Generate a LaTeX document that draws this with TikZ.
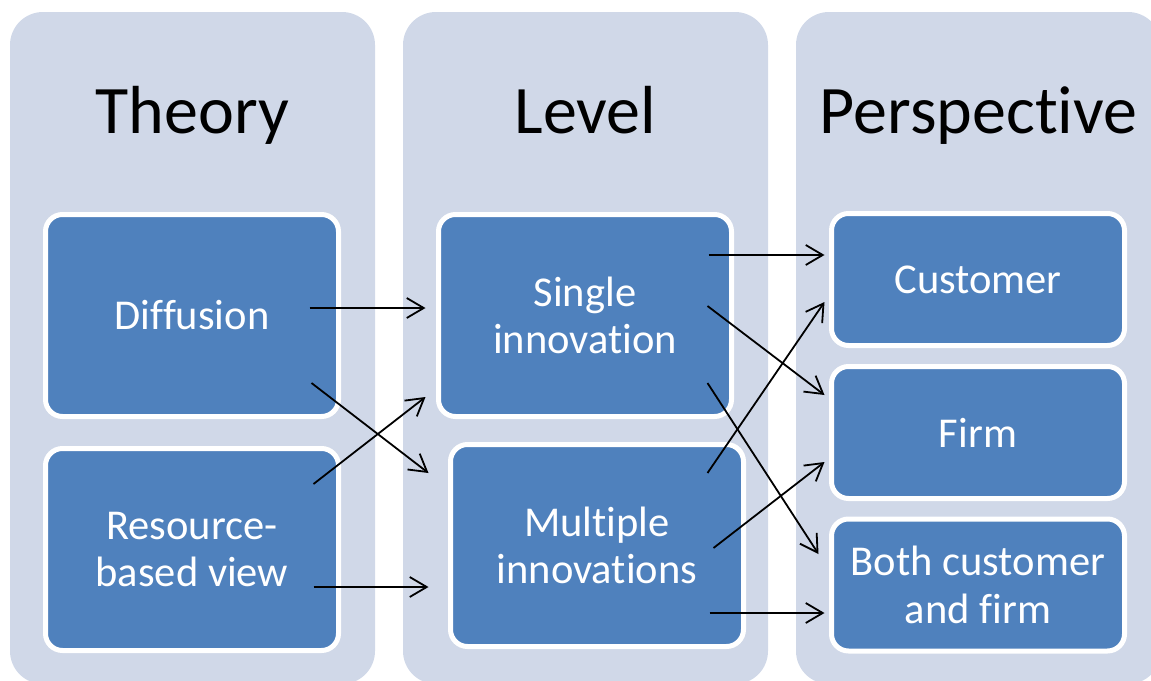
\documentclass[tikz,border=0pt]{standalone}
\usepackage{fontspec}
\setmainfont{Carlito}[Ligatures={NoCommon}]
\usetikzlibrary{arrows.meta}
\definecolor{colbg}{HTML}{D0D8E8}
\definecolor{boxfill}{HTML}{4F81BD}
\tikzset{
  column/.style={fill=colbg, draw=none, rounded corners=33pt, minimum width=365pt, minimum height=672pt, inner sep=0pt},
  title/.style={anchor=base, font={\fontsize{68}{80}\selectfont}, text=black, inner sep=0pt},
  item/.style={fill=boxfill, draw=white, line width=5pt, rounded corners=17pt, text=white, align=center,
    font={\fontsize{42.5}{47.5}\selectfont}, minimum width=293pt, inner sep=0pt},
  tall/.style={item, minimum height=202pt},
  short/.style={item, minimum height=132pt},
  arr/.style={-{Straight Barb[length=17pt,width=20pt,line width=1.8pt]}, line width=1.8pt, black}
}
\begin{document}
\begin{tikzpicture}[x=1pt,y=-1pt]
\useasboundingbox (0,0) rectangle (1151,680);
\clip (0,0) rectangle (1151,680);
% columns
\node[column] (col1) at (192.5,348) {};
\node[column] (col2) at (585.5,348) {};
\node[column] (col3) at (978.5,348) {};
% titles
\node[title] (t1) at (192.5,133) {Theory};
\node[title] (t2) at (585.5,133) {Level};
\node[title] (t3) at (978.5,133) {Perspective};
% boxes
\node[tall] (diff) at (192,315.5) {Diffusion};
\node[tall] (res) at (192,549.5) {Resource-\\based view};
\node[tall] (single) at (585,315.5) {Single\\innovation};
\node[tall] (mult) at (597,545.5) {Multiple\\innovations};
\node[short] (cust) at (978,279.5) {Customer};
\node[short] (firm) at (978,432.5) {Firm};
\node[short] (both) at (978,585) {Both customer\\and firm};
% connectors
\draw[arr] ([xshift=-31.5pt,yshift=7.5pt]diff.east) -- ([xshift=-10.5pt,yshift=7.5pt]single.west);
\draw[arr] ([xshift=-29.5pt,yshift=-67.5pt]diff.east) -- ([xshift=-19.5pt,yshift=72.5pt]mult.west);
\draw[arr] ([xshift=-27.5pt,yshift=65.5pt]res.east) -- ([xshift=-10.5pt,yshift=-81.5pt]single.west);
\draw[arr] ([xshift=-27.5pt,yshift=-37.5pt]res.east) -- ([xshift=-19.5pt,yshift=-41.5pt]mult.west);
\draw[arr] ([xshift=-25.5pt,yshift=60.5pt]single.east) -- ([xshift=-4.5pt,yshift=24.5pt]cust.west);
\draw[arr] ([xshift=-26.5pt,yshift=9.5pt]single.east) -- ([xshift=-4.5pt,yshift=37.5pt]firm.west);
\draw[arr] ([xshift=-26.5pt,yshift=-67.5pt]single.east) -- ([xshift=-10.5pt,yshift=31pt]both.west);
\draw[arr] ([xshift=-38.5pt,yshift=72.5pt]mult.east) -- ([xshift=-4.5pt,yshift=-22.5pt]cust.west);
\draw[arr] ([xshift=-32.5pt,yshift=-2.5pt]mult.east) -- ([xshift=-4.5pt,yshift=-29.5pt]firm.west);
\draw[arr] ([xshift=-36.5pt,yshift=-67.5pt]mult.east) -- ([xshift=-4.5pt,yshift=-28pt]both.west);
\end{tikzpicture}
\end{document}
